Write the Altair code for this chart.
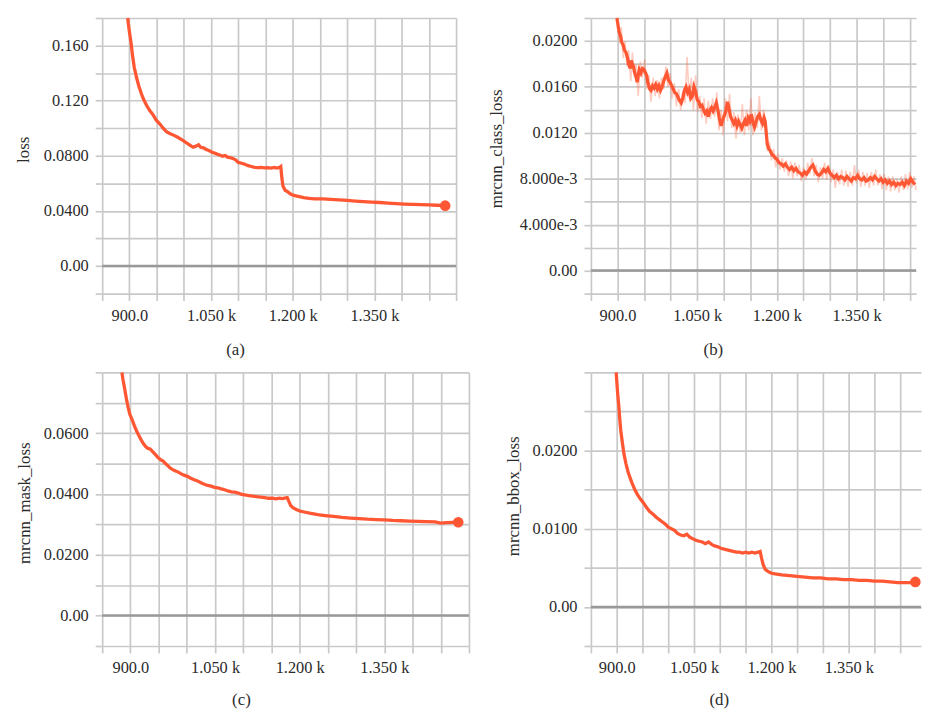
import altair as alt
import pandas as pd

# ---------------- data ----------------
# (a) loss
A_STEP = [897, 898, 900, 903, 906, 909, 913, 917, 922, 926, 931, 937, 943, 949, 956, 962, 968, 975, 981, 987,
          993, 999, 1005, 1011, 1017, 1022, 1027, 1031, 1036, 1041, 1046, 1051, 1056, 1061, 1066, 1071, 1076,
          1080, 1085, 1090, 1095, 1100, 1106, 1112, 1118, 1124, 1130, 1136, 1142, 1148, 1154, 1160, 1166, 1171,
          1176, 1178, 1180, 1182, 1186, 1191, 1196, 1202, 1210, 1220, 1230, 1240, 1255, 1270, 1285, 1300, 1315,
          1330, 1345, 1360, 1375, 1390, 1405, 1420, 1435, 1450, 1465, 1480]
A_LOSS = [0.180, 0.176, 0.170, 0.162, 0.152, 0.144, 0.137, 0.131, 0.125, 0.121, 0.117, 0.113, 0.110, 0.106,
          0.103, 0.100, 0.0975, 0.0960, 0.0950, 0.0938, 0.0925, 0.0910, 0.0893, 0.0878, 0.0862, 0.0870, 0.0880,
          0.0862, 0.0858, 0.0846, 0.0838, 0.0828, 0.0820, 0.0812, 0.0806, 0.0797, 0.0802, 0.0790, 0.0787, 0.0781,
          0.0770, 0.0752, 0.0746, 0.0738, 0.0728, 0.0722, 0.0716, 0.0714, 0.0716, 0.0712, 0.0714, 0.0711, 0.0716,
          0.0711, 0.0716, 0.0722, 0.0640, 0.0580, 0.0550, 0.0538, 0.0522, 0.0512, 0.0505, 0.0497, 0.0491, 0.0487,
          0.0488, 0.0484, 0.0480, 0.0476, 0.0471, 0.0467, 0.0464, 0.0461, 0.0457, 0.0453, 0.0450, 0.0448, 0.0446,
          0.0444, 0.0441, 0.0438]

# (b) mrcnn_class_loss (smoothed line)
B_STEP = [899, 901, 903, 906, 908, 911, 913, 916, 919, 921, 924, 926, 928, 930, 932, 935, 937, 939, 941, 944,
          947, 950, 952, 955, 957, 959, 961, 963, 966, 969, 972, 975, 978, 981, 984, 987, 990, 993, 996, 999,
          1002, 1005, 1008, 1011, 1014, 1017, 1020, 1023, 1026, 1029, 1032, 1035, 1038, 1041, 1044, 1047, 1050,
          1053, 1056, 1059, 1062, 1065, 1068, 1071, 1074, 1077, 1080, 1083, 1086, 1089, 1092, 1095, 1098, 1101,
          1104, 1107, 1110, 1113, 1116, 1119, 1122, 1125, 1128, 1131, 1134, 1137, 1140, 1143, 1146, 1149, 1152,
          1155, 1158, 1161, 1164, 1167, 1170, 1173, 1176, 1178, 1180, 1182, 1185, 1188, 1191, 1194, 1197, 1200,
          1204, 1208, 1212, 1216, 1220, 1224, 1228, 1232, 1236, 1240, 1244, 1248, 1252, 1256, 1260, 1264, 1268,
          1272, 1276, 1280, 1284, 1288, 1292, 1296, 1300, 1304, 1308, 1312, 1316, 1320, 1324, 1328, 1332, 1336,
          1340, 1344, 1348, 1352, 1356, 1360, 1364, 1368, 1372, 1376, 1380, 1384, 1388, 1392, 1396, 1400, 1404,
          1408, 1412, 1416, 1420, 1424, 1428, 1432, 1436, 1440, 1444, 1448, 1452, 1456, 1460]
B_LOSS = [0.0220, 0.0214, 0.0208, 0.0204, 0.0199, 0.0196, 0.0192, 0.0190, 0.0185, 0.0180, 0.0176, 0.0183,
          0.0180, 0.0178, 0.0173, 0.0169, 0.0164, 0.0170, 0.0175, 0.0172, 0.0176, 0.0175, 0.0173, 0.0170, 0.0164,
          0.0161, 0.0158, 0.0157, 0.0161, 0.0159, 0.0162, 0.0158, 0.0161, 0.0157, 0.0160, 0.0165, 0.0169, 0.0172,
          0.0166, 0.0164, 0.0161, 0.0158, 0.0155, 0.0154, 0.0151, 0.0148, 0.0146, 0.0150, 0.0157, 0.0160, 0.0155,
          0.0158, 0.0150, 0.0152, 0.0160, 0.0156, 0.0149, 0.0147, 0.0143, 0.0144, 0.0140, 0.0137, 0.0139, 0.0134,
          0.0140, 0.0142, 0.0139, 0.0142, 0.0146, 0.0140, 0.0132, 0.0126, 0.0131, 0.0135, 0.0139, 0.0147, 0.0141,
          0.0134, 0.0131, 0.0128, 0.0131, 0.0126, 0.0130, 0.0127, 0.0124, 0.0128, 0.0131, 0.0126, 0.0133, 0.0130,
          0.0136, 0.0129, 0.0125, 0.0130, 0.0134, 0.0136, 0.0131, 0.0128, 0.0133, 0.0130, 0.0120, 0.0110, 0.0106,
          0.0104, 0.0101, 0.0100, 0.0098, 0.0097, 0.0094, 0.0093, 0.0091, 0.0093, 0.0090, 0.0088, 0.0090, 0.0087,
          0.0089, 0.0086, 0.0085, 0.0083, 0.0086, 0.0084, 0.0087, 0.0090, 0.0092, 0.0087, 0.0084, 0.0083, 0.0085,
          0.0088, 0.0086, 0.0089, 0.0085, 0.0083, 0.0081, 0.0083, 0.0080, 0.0082, 0.0081, 0.0079, 0.0082, 0.0080,
          0.0078, 0.0081, 0.0080, 0.0083, 0.0080, 0.0079, 0.0081, 0.0078, 0.0079, 0.0081, 0.0079, 0.0082, 0.0080,
          0.0078, 0.0080, 0.0077, 0.0079, 0.0076, 0.0078, 0.0075, 0.0077, 0.0074, 0.0076, 0.0075, 0.0077, 0.0074,
          0.0078, 0.0076, 0.0080, 0.0077, 0.0075]

# (b) raw (unsmoothed) values, drawn faint behind
B_RAW_STEP = [900, 904, 907, 911, 914, 918, 921, 925, 928, 932, 935, 939, 943, 947, 951, 955, 959, 963, 967,
              971, 975, 979, 983, 987, 991, 995, 999, 1003, 1007, 1011, 1015, 1019, 1023, 1027, 1031, 1035, 1039,
              1043, 1047, 1051, 1055, 1059, 1063, 1067, 1071, 1075, 1079, 1083, 1087, 1091, 1095, 1099, 1103,
              1107, 1111, 1115, 1119, 1123, 1127, 1131, 1135, 1139, 1143, 1147, 1151, 1155, 1159, 1163, 1167,
              1171, 1175, 1179, 1182, 1186, 1190, 1194, 1198, 1202, 1206, 1210, 1214, 1218, 1222, 1226, 1230,
              1234, 1238, 1242, 1246, 1250, 1254, 1258, 1262, 1266, 1270, 1274, 1278, 1282, 1286, 1290, 1294,
              1298, 1302, 1306, 1310, 1314, 1318, 1322, 1326, 1330, 1334, 1338, 1342, 1346, 1350, 1354, 1358,
              1362, 1366, 1370, 1374, 1378, 1382, 1386, 1390, 1394, 1398, 1402, 1406, 1410, 1414, 1418, 1422,
              1426, 1430, 1434, 1438, 1442, 1446, 1450, 1454, 1458, 1462]
B_RAW = [0.0218, 0.0198, 0.0212, 0.0185, 0.0200, 0.0178, 0.0192, 0.0165, 0.0190, 0.0168, 0.0180, 0.0152,
         0.0182, 0.0168, 0.0184, 0.0158, 0.0170, 0.0147, 0.0168, 0.0152, 0.0166, 0.0150, 0.0168, 0.0158, 0.0178,
         0.0160, 0.0172, 0.0150, 0.0163, 0.0143, 0.0158, 0.0140, 0.0156, 0.0146, 0.0186, 0.0150, 0.0168, 0.0140,
         0.0170, 0.0138, 0.0152, 0.0133, 0.0150, 0.0128, 0.0148, 0.0132, 0.0150, 0.0134, 0.0155, 0.0122, 0.0140,
         0.0118, 0.0150, 0.0130, 0.0154, 0.0124, 0.0138, 0.0115, 0.0136, 0.0120, 0.0145, 0.0118, 0.0140, 0.0122,
         0.0150, 0.0118, 0.0138, 0.0124, 0.0152, 0.0122, 0.0140, 0.0125, 0.0104, 0.0112, 0.0096, 0.0106, 0.0090,
         0.0102, 0.0088, 0.0098, 0.0086, 0.0096, 0.0082, 0.0095, 0.0080, 0.0094, 0.0082, 0.0092, 0.0078, 0.0090,
         0.0079, 0.0094, 0.0084, 0.0098, 0.0082, 0.0092, 0.0077, 0.0090, 0.0080, 0.0094, 0.0079, 0.0092, 0.0077,
         0.0088, 0.0072, 0.0086, 0.0075, 0.0088, 0.0074, 0.0087, 0.0073, 0.0086, 0.0074, 0.0092, 0.0076, 0.0088,
         0.0073, 0.0086, 0.0074, 0.0085, 0.0072, 0.0086, 0.0074, 0.0088, 0.0074, 0.0084, 0.0071, 0.0084, 0.0070,
         0.0082, 0.0069, 0.0082, 0.0070, 0.0080, 0.0068, 0.0082, 0.0070, 0.0084, 0.0071, 0.0086, 0.0072, 0.0082,
         0.0070]

# (c) mrcnn_mask_loss
C_STEP = [885, 887, 890, 893, 896, 899, 903, 907, 911, 915, 919, 923, 927, 931, 935, 939, 944, 949, 954, 958,
          962, 966, 970, 975, 980, 985, 990, 995, 1001, 1007, 1013, 1019, 1025, 1031, 1037, 1043, 1049, 1055,
          1061, 1067, 1073, 1079, 1085, 1091, 1097, 1103, 1110, 1117, 1124, 1131, 1138, 1145, 1152, 1158, 1164,
          1170, 1175, 1178, 1181, 1184, 1188, 1194, 1200, 1210, 1220, 1232, 1245, 1260, 1275, 1290, 1305, 1320,
          1335, 1350, 1365, 1380, 1395, 1410, 1425, 1440, 1450, 1460, 1470, 1481]
C_LOSS = [0.0800, 0.0775, 0.0745, 0.0712, 0.0685, 0.0662, 0.0645, 0.0625, 0.0607, 0.0592, 0.0578, 0.0566,
          0.0556, 0.0550, 0.0548, 0.0540, 0.0530, 0.0520, 0.0512, 0.0508, 0.0500, 0.0494, 0.0486, 0.0480, 0.0476,
          0.0472, 0.0466, 0.0462, 0.0458, 0.0452, 0.0447, 0.0443, 0.0437, 0.0432, 0.0428, 0.0426, 0.0422, 0.0420,
          0.0417, 0.0414, 0.0410, 0.0407, 0.0406, 0.0403, 0.0399, 0.0397, 0.0395, 0.0393, 0.0391, 0.0390, 0.0388,
          0.0386, 0.0386, 0.0384, 0.0386, 0.0385, 0.0387, 0.0388, 0.0375, 0.0362, 0.0355, 0.0349, 0.0344, 0.0340,
          0.0336, 0.0332, 0.0329, 0.0326, 0.0323, 0.0321, 0.0319, 0.0317, 0.0316, 0.0315, 0.0313, 0.0312, 0.0311,
          0.0310, 0.0309, 0.0308, 0.0304, 0.0306, 0.0307, 0.0307]

# (d) mrcnn_bbox_loss
D_STEP = [899, 900, 902, 904, 906, 908, 911, 914, 918, 922, 926, 930, 935, 940, 946, 952, 958, 964, 970, 976,
          982, 988, 994, 1000, 1006, 1012, 1018, 1024, 1030, 1036, 1042, 1048, 1054, 1060, 1066, 1072, 1078,
          1084, 1090, 1096, 1102, 1108, 1114, 1120, 1126, 1132, 1138, 1144, 1150, 1156, 1162, 1168, 1174, 1178,
          1181, 1184, 1188, 1194, 1200, 1210, 1220, 1235, 1250, 1265, 1280, 1295, 1310, 1325, 1340, 1355, 1370,
          1385, 1400, 1415, 1430, 1445, 1460, 1470, 1479]
D_LOSS = [0.0300, 0.0290, 0.0272, 0.0258, 0.0240, 0.0225, 0.0210, 0.0196, 0.0183, 0.0173, 0.0165, 0.0158,
          0.0150, 0.0144, 0.0138, 0.0133, 0.0127, 0.0122, 0.0119, 0.0115, 0.0112, 0.0109, 0.0106, 0.0102, 0.0100,
          0.0098, 0.0094, 0.0092, 0.0091, 0.0093, 0.0089, 0.0087, 0.0085, 0.0084, 0.0083, 0.0081, 0.0083, 0.0080,
          0.0078, 0.0077, 0.0075, 0.0074, 0.0073, 0.0072, 0.0071, 0.0070, 0.0070, 0.0069, 0.0070, 0.0069, 0.0070,
          0.0069, 0.0070, 0.0071, 0.0062, 0.0054, 0.0048, 0.0045, 0.0043, 0.0042, 0.0041, 0.0040, 0.0039, 0.0038,
          0.0037, 0.0037, 0.0036, 0.0036, 0.0035, 0.0035, 0.0034, 0.0034, 0.0033, 0.0033, 0.0032, 0.0031, 0.0031,
          0.0031, 0.0032]

# ---------------- axis ticks and labels ----------------
X_GRID = [850, 900, 950, 1000, 1050, 1100, 1150, 1200, 1250, 1300, 1350, 1400, 1450, 1500]
X_TICK_VALUES = [900, 1050, 1200, 1350]
X_TICK_LABELS = ["900.0", "1.050 k", "1.200 k", "1.350 k"]

A_Y_GRID = [-0.02, 0.0, 0.02, 0.04, 0.06, 0.08, 0.10, 0.12, 0.14, 0.16, 0.18]
A_Y_TICKS = [0.0, 0.04, 0.08, 0.12, 0.16]
A_Y_LABELS = ["0.00", "0.0400", "0.0800", "0.120", "0.160"]

B_Y_GRID = [-0.002, 0.0, 0.002, 0.004, 0.006, 0.008, 0.010, 0.012, 0.014, 0.016, 0.018, 0.020, 0.022]
B_Y_TICKS = [0.0, 0.004, 0.008, 0.012, 0.016, 0.020]
B_Y_LABELS = ["0.00", "4.000e-3", "8.000e-3", "0.0120", "0.0160", "0.0200"]

C_Y_GRID = [-0.01, 0.0, 0.01, 0.02, 0.03, 0.04, 0.05, 0.06, 0.07, 0.08]
C_Y_TICKS = [0.0, 0.02, 0.04, 0.06]
C_Y_LABELS = ["0.00", "0.0200", "0.0400", "0.0600"]

D_Y_GRID = [-0.005, 0.0, 0.005, 0.01, 0.015, 0.02, 0.025, 0.03]
D_Y_TICKS = [0.0, 0.01, 0.02]
D_Y_LABELS = ["0.00", "0.0100", "0.0200"]

# ---------------- styling ----------------
FONT = "Liberation Serif"
LABEL_SIZE = 16.5
TITLE_SIZE = 17
LINE_COLOR = "#ff5733"
GRID_COLOR = "#c9c9c9"
ZERO_COLOR = "#999999"
TEXT_COLOR = "#2b2b2b"

AXIS_STYLE = dict(
    labelFont=FONT, labelColor=TEXT_COLOR,
    titleFont=FONT, titleFontSize=TITLE_SIZE, titleFontWeight="normal", titleColor=TEXT_COLOR,
    gridColor=GRID_COLOR, gridWidth=1.7, gridOpacity=1,
    tickColor=GRID_COLOR, tickWidth=1.7, tickSize=7,
    domain=False, labelPadding=7, labelOverlap=False, labelFlush=False, labelBound=False,
)


def label_expr(values, texts):
    parts = [f"abs(datum.value - ({v})) < 1e-9 ? '{t}'" for v, t in zip(values, texts)]
    return " : ".join(parts) + " : ''"


def label_size(values):
    # unlabeled grid ticks get a zero font size so their empty labels take no room
    test = " || ".join(f"abs(datum.value - ({v})) < 1e-9" for v in values)
    return {"condition": {"test": test, "value": LABEL_SIZE}, "value": 0}


def anchor(x, y):
    # white point-like rule used to pin the panel's bounding box
    return alt.Chart(pd.DataFrame({"k": [0]})).mark_rule(color="white", strokeWidth=0.5).encode(
        x=alt.value(x), x2=alt.value(x + 0.5), y=alt.value(y), y2=alt.value(y + 0.5))


def panel(steps, vals, ytitle, ydom, ygrid, yticks, ylabels, caption, width, height, xmax,
          ytx, yty, capx, capy, lead, right, bottom, dot=True, raw=None):
    xgrid = [v for v in X_GRID if v <= xmax]
    x = alt.X("step:Q",
              scale=alt.Scale(domain=[850, xmax], nice=False, zero=False),
              axis=alt.Axis(values=xgrid, labelExpr=label_expr(X_TICK_VALUES, X_TICK_LABELS),
                            labelFontSize=label_size(X_TICK_VALUES),
                            title=caption, titleX=capx, titleY=capy, titleAlign="center",
                            titleBaseline="middle", titleAngle=0, **AXIS_STYLE))
    y = alt.Y("value:Q",
              scale=alt.Scale(domain=ydom, nice=False, zero=False),
              axis=alt.Axis(values=ygrid, labelExpr=label_expr(yticks, ylabels),
                            labelFontSize=label_size(yticks),
                            title=ytitle, titleX=ytx, titleY=yty, titleAlign="center",
                            titleBaseline="middle", titleAngle=270, **AXIS_STYLE))
    df = pd.DataFrame({"step": steps, "value": vals})
    layers = []
    zero = alt.Chart(pd.DataFrame({"value": [0.0]})).mark_rule(
        color=ZERO_COLOR, strokeWidth=2.5).encode(y=y)
    layers.append(zero)
    if raw is not None:
        rdf = pd.DataFrame({"step": raw[0], "value": raw[1]})
        layers.append(alt.Chart(rdf).mark_line(color=LINE_COLOR, strokeWidth=1.6, opacity=0.3).encode(x=x, y=y))
    layers.append(alt.Chart(df).mark_line(color=LINE_COLOR, strokeWidth=3.3).encode(x=x, y=y))
    if dot:
        ddf = df.tail(1)
        layers.append(alt.Chart(ddf).mark_circle(color=LINE_COLOR, size=115, opacity=1).encode(x=x, y=y))
    layers.append(anchor(-lead, -2))
    layers.append(anchor(width + right, height + bottom))
    return alt.layer(*layers).properties(width=width, height=height)


pa = panel(A_STEP, A_LOSS, "loss", [-0.02, 0.18], A_Y_GRID, A_Y_TICKS, A_Y_LABELS, "(a)",
           357, 278, 1500, -79.5, 132.5, 134, 56, 94, 2, 66)
pb = panel(B_STEP, B_LOSS, "mrcnn_class_loss", [-0.002, 0.022], B_Y_GRID, B_Y_TICKS, B_Y_LABELS, "(b)",
           328, 278, 1462, -95.5, 131.5, 123, 56.5, 105, 0, 66, dot=False, raw=(B_RAW_STEP, B_RAW))
pc = panel(C_STEP, C_LOSS, "mrcnn_mask_loss", [-0.01, 0.08], C_Y_GRID, C_Y_TICKS, C_Y_LABELS, "(c)",
           370, 276, 1500, -78.5, 131.5, 140, 54.5, 88, 2, 0)
pd_ = panel(D_STEP, D_LOSS, "mrcnn_bbox_loss", [-0.005, 0.03], D_Y_GRID, D_Y_TICKS, D_Y_LABELS, "(d)",
            333, 276, 1490, -78, 124.5, 129, 54.5, 88, 0, 0)

row1 = alt.hconcat(pa, pb, spacing=27)
row2 = alt.hconcat(pc, pd_, spacing=31)

chart = alt.vconcat(row1, row2, spacing=5.5).properties(
    padding={"left": 0, "top": 0, "right": 0, "bottom": 0}
).configure_view(stroke=None).configure_axis(labelFontSize=LABEL_SIZE, **AXIS_STYLE)

chart.save("out.html", embed_options={"renderer": "svg", "actions": False})
